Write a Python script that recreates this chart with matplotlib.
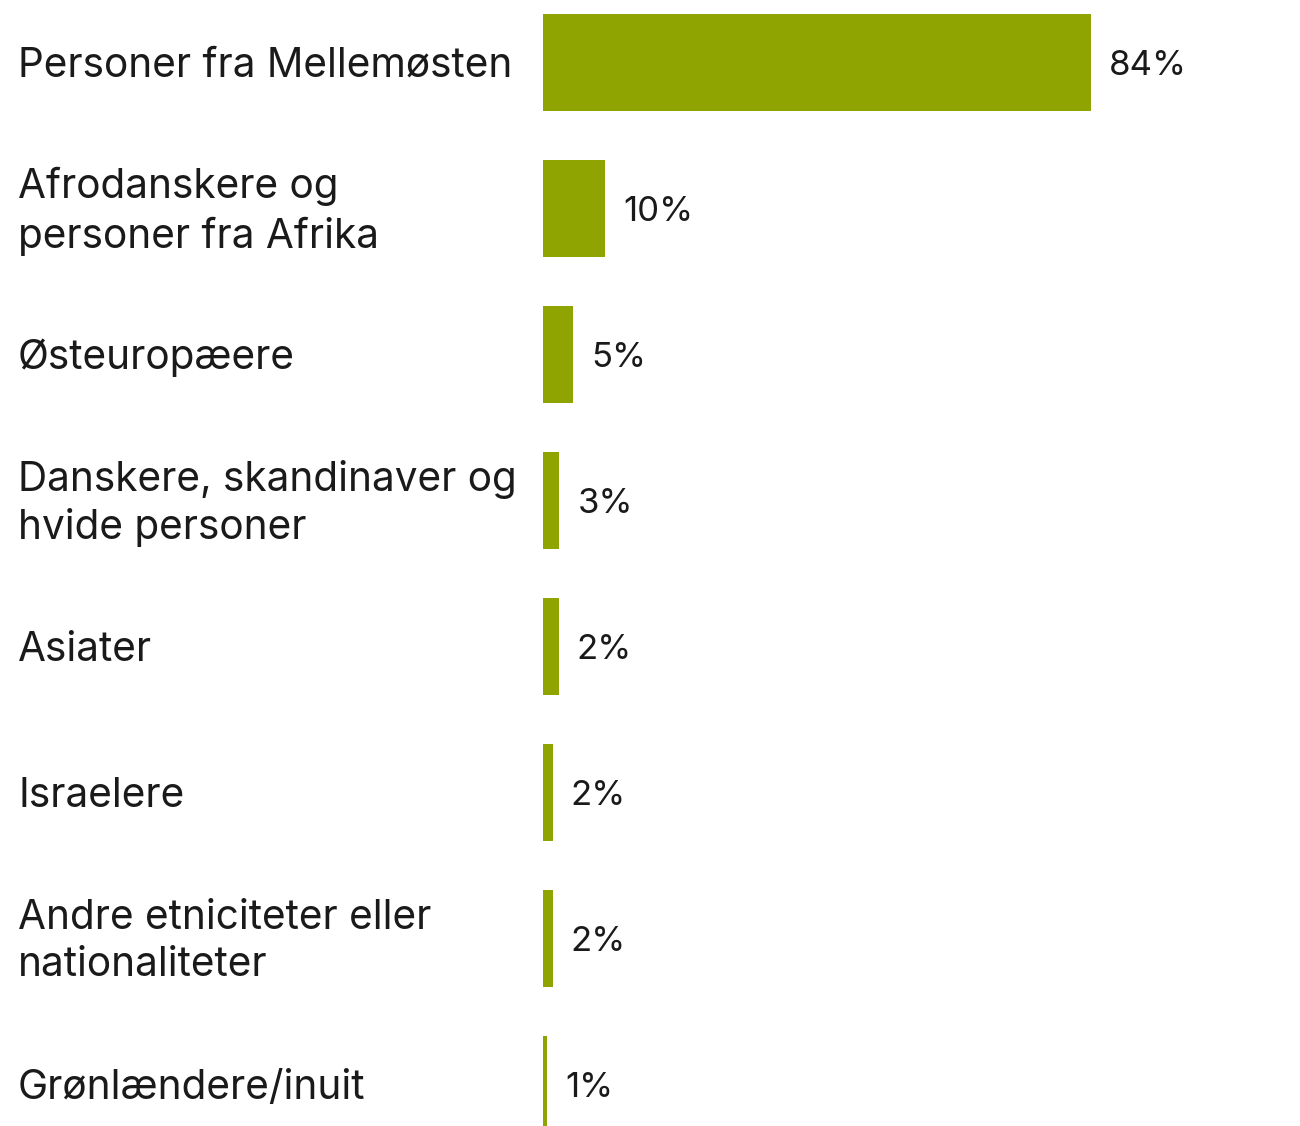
import matplotlib.pyplot as plt
from matplotlib.transforms import blended_transform_factory, offset_copy

plt.rcParams['font.family'] = ['Inter', 'DejaVu Sans']

categories = ["Personer fra Mellemøsten",
              "Afrodanskere og\npersoner fra Afrika",
              "Østeuropæere",
              "Danskere, skandinaver og\nhvide personer",
              "Asiater",
              "Israelere",
              "Andre etniciteter eller\nnationaliteter",
              "Grønlændere/inuit"]
values = [84.0, 9.5, 4.6, 2.5, 2.4, 1.5, 1.5, 0.6]
value_labels = ["84%", "10%", "5%", "3%", "2%", "2%", "2%", "1%"]

W, H = 1300, 1126
fig = plt.figure(figsize=(W / 100, H / 100), dpi=100)
ax = fig.add_axes([543 / W, 0, 1 - 543 / W, 1])

pitch = 146.0
y = list(range(len(values)))
ax.barh(y, values, height=97 / pitch, color="#8fa400", left=0)
ax.set_xlim(0, (W - 543) / (548 / 84))
ax.set_ylim((H - 62.5) / pitch, -62.5 / pitch)
ax.axis("off")

# value labels, 18 px right of bar end
vtrans = offset_copy(ax.transData, fig=fig, x=18 * 0.72, y=-3 * 0.72, units="points")
for i, (v, lab) in enumerate(zip(values, value_labels)):
    ax.text(v, i, lab, transform=vtrans, ha="left", va="center",
            fontsize=25, color="#1a1a1a")

# category labels at left edge of figure
ltrans = offset_copy(blended_transform_factory(fig.transFigure, ax.transData),
                     fig=fig, x=0, y=-3 * 0.72, units="points")
for i, cat in enumerate(categories):
    ax.text(18 / W, i, cat, transform=ltrans, ha="left", va="center",
            fontsize=29.2, color="#1a1a1a", linespacing=1.32)

fig.savefig("out.png", dpi=100)
